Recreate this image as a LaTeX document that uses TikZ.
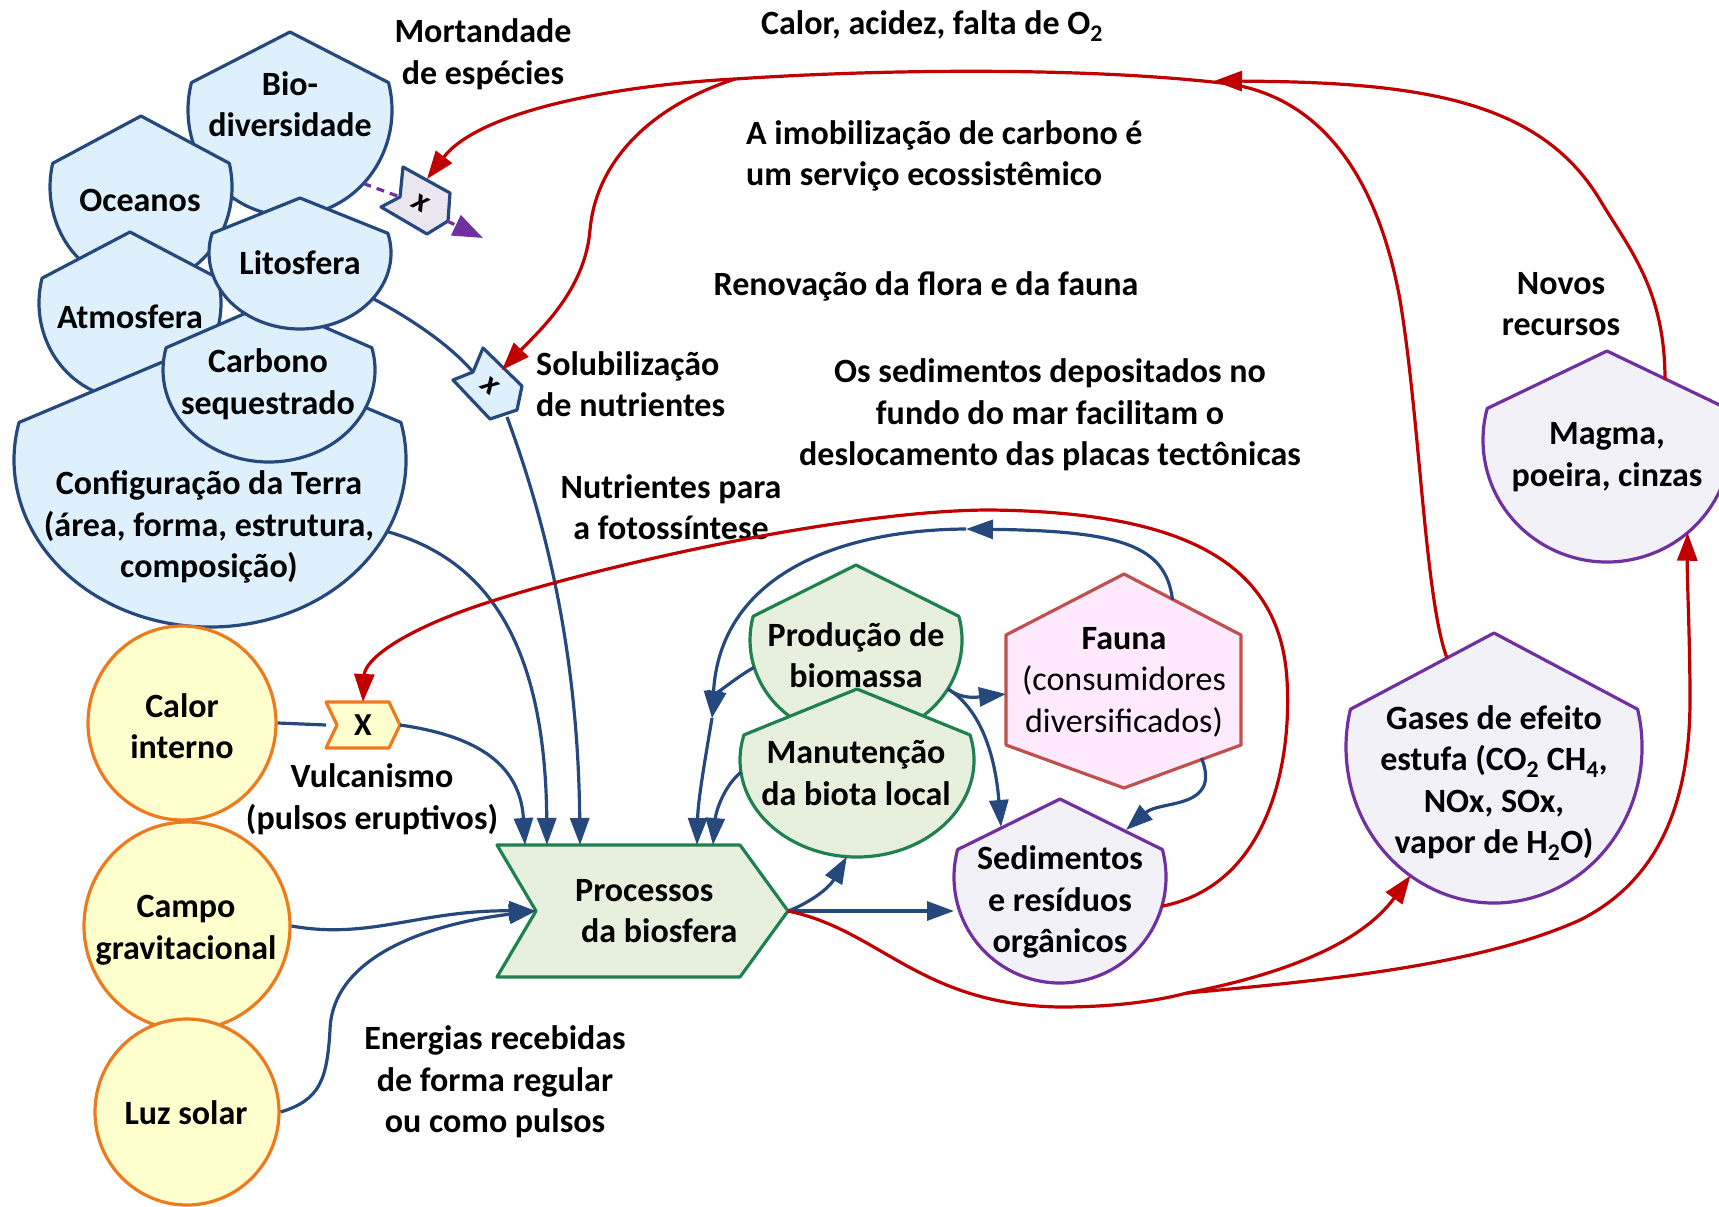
\documentclass[tikz,border=0pt]{standalone}
\usepackage{fontspec}
\setmainfont{Carlito}
\usetikzlibrary{arrows.meta,calc,shapes.geometric}

\definecolor{dkblue}{RGB}{38,73,125}
\definecolor{ltblue}{HTML}{DEF0FC}
\definecolor{orng}{HTML}{EE7A1E}
\definecolor{ltyellow}{HTML}{FFFFCE}
\definecolor{grn}{HTML}{1F8050}
\definecolor{ltgreen}{HTML}{E7EFDD}
\definecolor{faunaline}{HTML}{C0504D}
\definecolor{ltpink}{HTML}{FFE9FD}
\definecolor{purp}{HTML}{7030A0}
\definecolor{ltlav}{HTML}{F3F1F8}
\definecolor{gatelav}{HTML}{EAE6EF}
\definecolor{rd}{HTML}{C00000}

% "hut" shape: pointed roof on top of an elliptical bowl
% #1 name, #2 style, #3 cx, #4 cy (downwards), #5 rx, #6 ry, #7 shoulder angle, #8 apex y (downwards)
\newcommand\hut[8]{%
  \draw[#2] ($(#3,-#4)+(#7:#5 and #6)$) arc[start angle=#7, end angle=-180-#7, x radius=#5, y radius=#6]
     -- (#3,-#8) -- cycle;
  \node[ellipse, minimum width=2*#5, minimum height=2*#6, inner sep=0pt, outer sep=0pt] (#1) at (#3,-#4) {};
}

\begin{document}
\begin{tikzpicture}[x=1pt,y=1pt,
  lbl/.style={font=\bfseries\fontsize{34}{41.5}\selectfont, align=center, inner sep=0pt},
  bluehut/.style={draw=dkblue, fill=ltblue, line width=3.2pt, line join=round},
  greenhut/.style={draw=grn, fill=ltgreen, line width=3.2pt, line join=round},
  purphut/.style={draw=purp, fill=ltlav, line width=3.2pt, line join=round},
  energy/.style={ellipse, draw=orng, fill=ltyellow, line width=3.2pt, inner sep=0pt},
  anchorbox/.style={inner sep=0pt, outer sep=0pt},
  bline/.style={draw=dkblue, line width=3.2pt},
  rline/.style={draw=rd, line width=3.2pt},
  pdash/.style={draw=purp, line width=3.2pt, dash pattern=on 8pt off 6pt},
  tipb/.style={-{Triangle[length=27pt,width=19pt]}},
  tipr/.style={-{Triangle[length=28pt,width=20pt]}},
  tipp/.style={-{Triangle[length=30pt,width=22pt]}},
  gatetxt/.style={anchorbox, font=\bfseries\itshape\fontsize{32}{36}\selectfont}
]
\useasboundingbox (0,0) rectangle (1719,-1207);
\clip (0,0) rectangle (1719,-1207);

% ---- Earth compartments (blue stack) ----
\hut{bio}{bluehut}{290}{110}{102}{106}{15}{32}
\hut{oce}{bluehut}{141}{187}{91}{98}{14}{116}
\hut{atm}{bluehut}{130}{303}{91}{96}{15}{232}
\hut{conf}{bluehut}{210}{460}{196}{167}{13}{342}
\hut{carb}{bluehut}{269}{370}{106}{92}{14}{303}
\hut{lito}{bluehut}{300}{253}{91}{76}{15}{198}

% ---- energy sources ----
\node[energy, minimum width=188, minimum height=194] (calor) at (182,-723) {};
\node[energy, minimum width=206, minimum height=208] (campo) at (187,-926) {};
\node[energy, minimum width=184, minimum height=186] (luz) at (187,-1112) {};

% ---- biosphere processes ----
\node[anchorbox, minimum width=291, minimum height=132] (proc) at (642.5,-911) {};
\draw[draw=grn, fill=ltgreen, line width=3.2pt, line join=round]
  (497,-845) -- (740,-845) -- (788,-911) -- (740,-977) -- (497,-977) -- (536,-911) -- cycle;

\hut{prod}{greenhut}{856}{640}{106}{98}{14}{565}
\hut{manut}{greenhut}{857}{760}{117}{97}{15}{689}

% ---- fauna ----
\node[anchorbox, minimum width=235, minimum height=214] (fauna) at (1123.5,-681) {};
\draw[draw=faunaline, fill=ltpink, line width=3.2pt, line join=round]
  (1124,-574) -- (1241,-635) -- (1241,-745) -- (1124,-788) -- (1006,-745) -- (1006,-635) -- cycle;

% ---- products ----
\hut{sed}{purphut}{1060}{877}{106}{106}{15}{799}
\hut{gas}{purphut}{1494}{747}{148}{156}{14}{633}
\hut{mag}{purphut}{1607}{440}{124}{122}{15}{351}

% ---- gates ----
\draw[draw=orng, fill=ltyellow, line width=3.2pt, line join=round]
  (326,-702) -- (389,-702) -- (400,-725) -- (389,-748) -- (326,-748) -- (337,-725) -- cycle;
\node[anchorbox, minimum width=74, minimum height=46, font=\bfseries\fontsize{32}{36}\selectfont] (vx) at (363,-725) {X};

\draw[draw=dkblue, fill=gatelav, line width=3.2pt, line join=round]
  (403,-167) -- (450,-193) -- (448,-221) -- (427,-234) -- (381,-207) -- (400,-197) -- cycle;
\node[gatetxt, rotate=-29] (mx) at (421,-203) {x};

\draw[draw=dkblue, fill=ltblue, line width=3.2pt, line join=round]
  (483,-348) -- (522,-386) -- (517,-410) -- (490,-419) -- (453,-380) -- (473,-372) -- cycle;
\node[gatetxt, rotate=-38] (sx) at (490,-386) {x};

% ---- texts inside shapes ----
\node[lbl] (bio-t) at (290,-104) {Bio-\\diversidade};
\node[lbl] (oce-t) at (140,-200) {Oceanos};
\node[lbl] (atm-t) at (130,-317) {Atmosfera};
\node[lbl] (lito-t) at (300,-263) {Litosfera};
\node[lbl] (carb-t) at (268,-384) {Carbono\\sequestrado};
\node[lbl] (conf-t) at (209,-527) {Configuração da Terra\\(área, forma, estrutura,\\composição)};
\node[lbl] (calor-t) at (182,-726) {Calor\\interno};
\node[lbl] (campo-t) at (186,-930) {Campo\\gravitacional};
\node[lbl] (luz-t) at (186,-1113) {Luz solar};
\node[lbl, align=left, anchor=west] (proc-t) at (575,-911) {Processos\\\hspace*{6pt}da biosfera};
\node[lbl] (prod-t) at (856,-655) {Produção de\\biomassa};
\node[lbl] (manut-t) at (856,-773) {Manutenção\\da biota local};
\node[lbl] (fauna-t) at (1124,-682) {Fauna\\{\mdseries (consumidores}\\{\mdseries diversificados)}};
\node[lbl] (sed-t) at (1060,-902) {Sedimentos\\e resíduos\\orgânicos};
\node[lbl] (gas-t) at (1494,-783) {Gases de efeito\\estufa (CO\textsubscript{2} CH\textsubscript{4},\\NOx, SOx,\\vapor de H\textsubscript{2}O)};
\node[lbl] (mag-t) at (1607,-457) {Magma,\\poeira, cinzas};

% ---- free labels ----
\node[lbl] (mort-t) at (483,-54) {Mortandade\\de espécies};
\node[lbl] (calac-t) at (932,-26) {Calor, acidez, falta de O\textsubscript{2}};
\node[lbl, align=left, anchor=west] (imob-t) at (746,-156) {A imobilização de carbono é\\um serviço ecossistêmico};
\node[lbl] (renov-t) at (926,-286) {Renovação da flora e da fauna};
\node[lbl] (sedim-t) at (1050,-415) {Os sedimentos depositados no\\fundo do mar facilitam o\\deslocamento das placas tectônicas};
\node[lbl, align=left, anchor=west] (solub-t) at (536,-384) {Solubilização\\de nutrientes};
\node[lbl] (nutr-t) at (671,-507) {Nutrientes para\\a fotossíntese};
\node[lbl] (vulc-t) at (372,-799) {Vulcanismo\\(pulsos eruptivos)};
\node[lbl] (ener-t) at (495,-1082) {Energias recebidas\\de forma regular\\ou como pulsos};
\node[lbl] (novos-t) at (1561,-304) {Novos\\recursos};

% ---- blue flows ----
\draw[bline] (lito.-32) .. controls (410,-318) and (450,-345) .. ($(sx)+(-17,14)$);
\draw[bline, tipb] ($(sx)+(17,-31)$) .. controls (545,-520) and (578,-650) .. ($(proc.north west)+(83,0)$);
\draw[bline, tipb] (conf.-22) .. controls (470,-555) and (545,-620) .. ($(proc.north west)+(50,0)$);
\draw[bline] (calor.east) -- (vx.west);
\draw[bline, tipb] (vx.east) .. controls (470,-735) and (520,-760) .. ($(proc.north west)+(28,0)$);
\draw[bline, tipb] (campo.east) .. controls (370,-940) and (420,-910) .. ($(proc.west)+(39,0)$);
\draw[bline, tipb] (luz.east) .. controls (320,-1100) and (327,-1080) .. (330,-1030)
   .. controls (332,-960) and (420,-925) .. ($(proc.west)+(39,0)$);

\coordinate (jn) at (712,-718);
\coordinate (fa1) at (966,-529);
\draw[bline, tipb] ($(fauna)+(49,81)$) .. controls (1166,-545) and (1120,-531) .. (fa1);
\draw[bline, tipb] (fa1) .. controls (830,-530) and (720,-580) .. (jn);
\draw[bline, tipb] (prod.195) .. controls (735,-678) and (716,-695) .. (jn);
\draw[bline, tipb] (jn) .. controls (705,-760) and (698,-800) .. ($(proc.north west)+(200,0)$);
\draw[bline, tipb] (manut.186) .. controls (725,-785) and (716,-810) .. ($(proc.north west)+(216,0)$);
\draw[bline, tipb] (proc.east) .. controls (805,-905) and (828,-890) .. (manut.264);
\draw[bline, tipb] (proc.east) -- (sed.west |- proc.east);
\draw[bline, tipb] (prod.-28) .. controls (962,-700) and (978,-697) .. ($(fauna.west)+(0,-13)$);
\draw[bline, tipb] (prod.-28) .. controls (985,-712) and (996,-765) .. ($(sed)+(-59,50)$);
\draw[bline, tipb] ($(fauna)+(78,-77)$) .. controls (1222,-810) and (1160,-800) .. ($(sed)+(66,47)$);

% ---- species loss (dotted) ----
\coordinate (mxend) at (483,-238);
\draw[pdash] (bio.-45) -- ($(mx)+(-21,6)$);
\draw[pdash, tipp] ($(mx)+(26,-18)$) -- (mxend);

% ---- red feedbacks ----
\coordinate (split) at (735,-79);
\coordinate (merge) at (1214,-81);
\coordinate (split2) at (1187,-993);
\draw[rline] ($(gas)+(-47,89)$) .. controls (1425,-600) and (1420,-420) .. (1400,-300)
   .. controls (1380,-190) and (1330,-100) .. (1230,-84)
   .. controls (1100,-68) and (900,-68) .. (split);
\draw[rline, tipr] ($(mag)+(58,60)$) .. controls (1665,-290) and (1630,-250) .. (1600,-200)
   .. controls (1540,-100) and (1420,-82) .. (merge);
\draw[rline, tipr] (split) .. controls (620,-85) and (480,-110) .. ($(mx)+(6,24)$);
\draw[rline, tipr] (split) .. controls (640,-110) and (595,-170) .. (590,-230)
   .. controls (585,-290) and (540,-330) .. ($(sx)+(12,16)$);
\draw[rline, tipr] (sed.-16) .. controls (1270,-885) and (1292,-760) .. (1287,-680)
   .. controls (1280,-560) and (1180,-512) .. (990,-510)
   .. controls (850,-510) and (600,-565) .. (480,-605)
   .. controls (400,-632) and (365,-660) .. (vx.north);
\draw[rline] (proc.east) .. controls (880,-930) and (920,-1005) .. (1060,-1007)
   .. controls (1120,-1007) and (1160,-1000) .. (split2);
\draw[rline, tipr] (split2) .. controls (1280,-975) and (1360,-945) .. (gas.237);
\draw[rline, tipr] (split2) .. controls (1330,-980) and (1480,-965) .. (1580,-920)
   .. controls (1660,-880) and (1690,-800) .. (1690,-700)
   .. controls (1690,-640) and (1687,-580) .. (mag.-49);
\end{tikzpicture}
\end{document}
